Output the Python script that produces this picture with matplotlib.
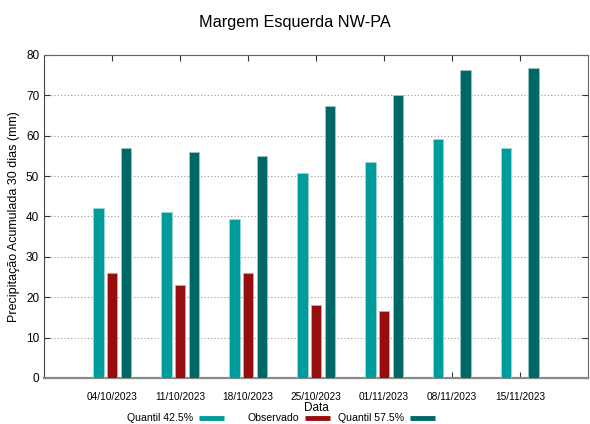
#!/usr/bin/env python3
# -*- coding: utf-8 -*-
"""
Margem Esquerda NW-PA - precipitacao acumulada 30 dias
"""

import matplotlib
matplotlib.use('Agg')
import matplotlib.pyplot as plt
from matplotlib.lines import Line2D
import numpy as np

plt.rcParams['font.family'] = ['Liberation Sans', 'DejaVu Sans']

# Data
dates = ['04/10/2023', '11/10/2023', '18/10/2023', '25/10/2023',
         '01/11/2023', '08/11/2023', '15/11/2023']
quantil_425 = [42.0, 41.1, 39.5, 50.8, 53.5, 59.1, 57.0]
observado = [26.0, 23.0, 26.0, 18.2, 16.6, np.nan, np.nan]
quantil_575 = [57.0, 55.9, 54.9, 67.4, 70.2, 76.4, 76.8]
yticks = list(range(0, 90, 10))
labels = ['Quantil 42.5%', 'Observado', 'Quantil 57.5%']

C_Q425 = '#009b9b'
C_OBS = '#970e0e'
C_Q575 = '#006767'

W, H = 590, 424
fig = plt.figure(figsize=(W / 100, H / 100), dpi=100)
ax = fig.add_axes([0.0746, 0.1085, 0.9966 - 0.0746, 0.8703 - 0.1085])

x = np.arange(1, len(dates) + 1)
width = 0.16
off = 0.205

ax.bar(x - off, quantil_425, width, color=C_Q425, edgecolor='#9fd6d6', linewidth=0.6, zorder=3)
ax.bar(x, observado, width, color=C_OBS, edgecolor='#d9a0a0', linewidth=0.6, zorder=3)
ax.bar(x + off, quantil_575, width, color=C_Q575, edgecolor='#9fc6c6', linewidth=0.6, zorder=3)

ax.set_xlim(0, 8)
ax.set_ylim(0, 80)
ax.set_yticks(yticks)
ax.set_xticks(x)
ax.set_xticklabels(dates, fontsize=7.3)
ax.tick_params(axis='y', labelsize=8.5, direction='in', length=4, right=True, color='#333333')
ax.tick_params(axis='x', direction='in', length=4, top=True, color='#333333', pad=10)

ax.grid(axis='y', linestyle=(0, (1, 2)), color='#999999', linewidth=0.8, zorder=0)

for s in ['top', 'right']:
    ax.spines[s].set_color('#666666')
ax.spines['left'].set_color('#444444')
ax.spines['bottom'].set_color('#888888')
ax.spines['bottom'].set_linewidth(1.6)

ax.set_xlabel('Data', fontsize=8.5, labelpad=0)
ax.set_ylabel('Precipitação Acumulada 30 dias (mm)', fontsize=9)
fig.text(0.5, 1 - 22 / H, 'Margem Esquerda NW-PA', ha='center', va='center', fontsize=11.7)

# gnuplot style key: text then colour sample
key_colors = [C_Q425, C_OBS, C_Q575]
text_right = [193, 299, 404]
key_y = 1 - 418 / H
for lab, col, xr in zip(labels, key_colors, text_right):
    fig.text(xr / W, key_y, lab, ha='right', va='center', fontsize=7.6)
    fig.add_artist(Line2D([(xr + 6) / W, (xr + 31) / W], [key_y, key_y],
                          color=col, lw=3.5, solid_capstyle='butt',
                          transform=fig.transFigure))

plt.savefig('out.png', dpi=100)
plt.close()
